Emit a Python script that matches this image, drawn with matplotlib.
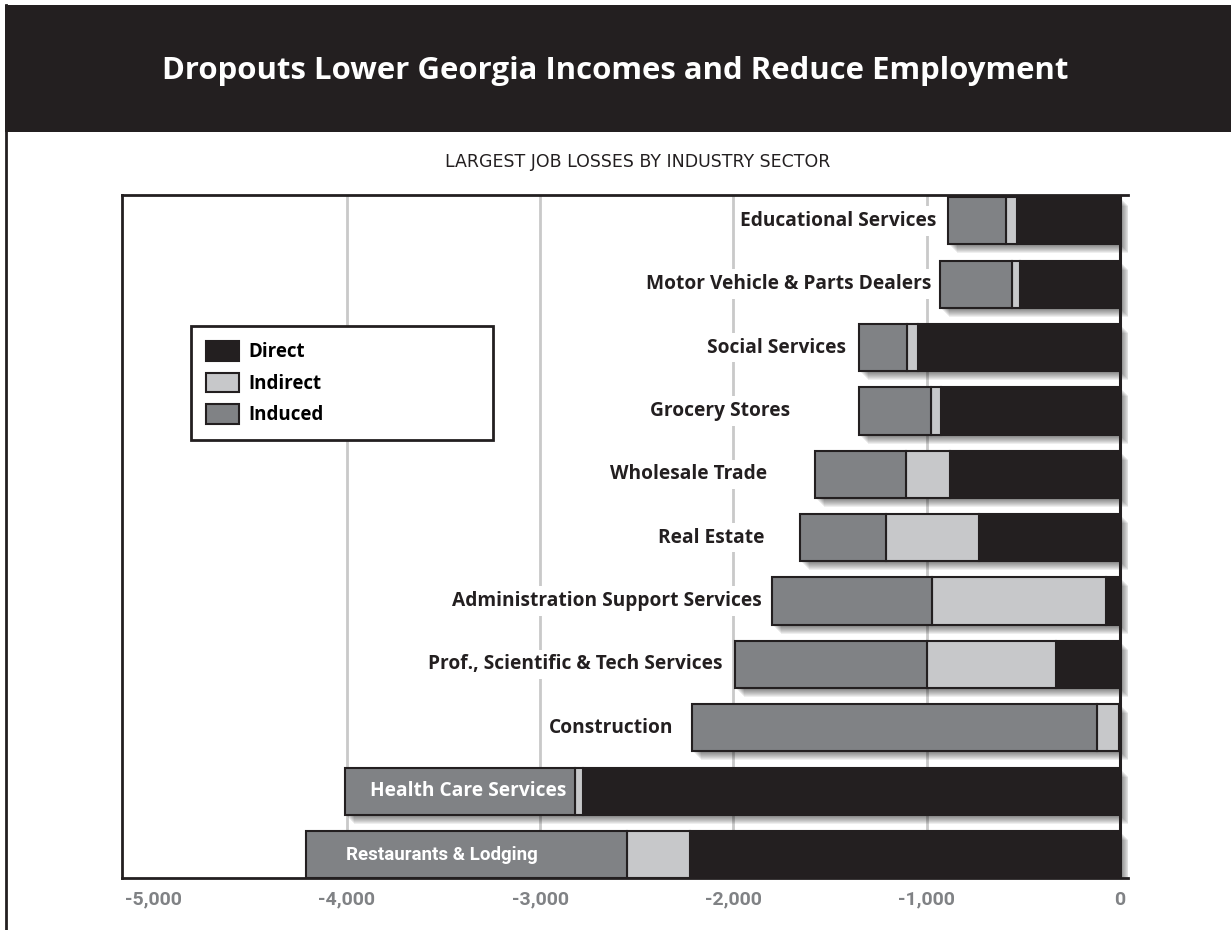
"""
Georgia dropouts: largest job losses by industry sector.

Horizontal stacked bars (direct / indirect / induced jobs lost), drawn
leftward from zero, with a dark title band across the top.
"""

import matplotlib
matplotlib.use("Agg")
import matplotlib.pyplot as plt
from matplotlib.patches import Rectangle
from matplotlib.lines import Line2D
from matplotlib.transforms import ScaledTranslation

# --- data ------------------------------------------------------------
SECTORS = [
    "Educational Services",
    "Motor Vehicle & Parts Dealers",
    "Social Services",
    "Grocery Stores",
    "Wholesale Trade",
    "Real Estate",
    "Administration Support Services",
    "Prof., Scientific & Tech Services",
    "Construction",
    "Health Care Services",
    "Restaurants & Lodging",
]
DIRECT = [533, 517, 1044, 927, 879, 729, 72, 331, 5, 2778, 2227]
INDIRECT = [56, 40, 56, 52, 228, 481, 902, 667, 115, 40, 324]
INDUCED = [299, 377, 250, 371, 470, 445, 827, 993, 2095, 1194, 1658]

XTICKS = [-5000, -4000, -3000, -2000, -1000, 0]
GRID_AT = [-4000, -3000, -2000, -1000]

# --- style -----------------------------------------------------------
INK = "#231f20"
LIGHT = "#c7c8ca"
MID = "#808285"
GRID = "#c9c9c9"
FONT = "Open Sans"
NARROW = "Roboto"

# gap (px) between a label and the left end of its bar
LABEL_GAP = [12, 8, 13, 69, 48, 36, 10, 13, 19]

W, H, DPI = 1231, 930, 100
fig = plt.figure(figsize=(W / DPI, H / DPI), dpi=DPI)
fig.patch.set_facecolor("white")


def fx(px):
    return px / W


def fy(py):
    return 1 - py / H


# title band and left frame line
fig.add_artist(Rectangle((fx(5), fy(132)), 1 - fx(5), fy(5) - fy(132),
                         transform=fig.transFigure, facecolor=INK,
                         edgecolor="none", zorder=0))
fig.add_artist(Line2D([fx(6), fx(6)], [0, fy(5)], transform=fig.transFigure,
                      color=INK, lw=2.0))
fig.text(0.5, fy(71), "Dropouts Lower Georgia Incomes and Reduce Employment",
         color="white", fontsize=22.4, fontweight="bold", family=FONT,
         ha="center", va="center")
fig.text(fx(638), fy(162), "LARGEST JOB LOSSES BY INDUSTRY SECTOR",
         color=INK, fontsize=12.5, family="DejaVu Sans",
         ha="center", va="center")

ax = fig.add_axes([fx(122), fy(878), fx(1128) - fx(122), fy(195) - fy(878)])
ax.set_facecolor("white")

y = list(range(len(SECTORS)))
neg_direct = [-d for d in DIRECT]
neg_indirect = [-d for d in INDIRECT]
neg_induced = [-d for d in INDUCED]
left_indirect = neg_direct
left_induced = [a + b for a, b in zip(neg_direct, neg_indirect)]
totals = [a + b + c for a, b, c in zip(neg_direct, neg_indirect, neg_induced)]

BAR_H = 0.745
bar_kw = dict(height=BAR_H, edgecolor=INK, linewidth=1.5, zorder=3)

# soft drop shadow under each whole bar
for d in range(1, 10):
    shadow = ax.barh(y, totals, height=BAR_H, color="black", alpha=0.065,
                     linewidth=0, zorder=2)
    off = ScaledTranslation(d / DPI, -d / DPI, fig.dpi_scale_trans)
    for p in shadow:
        p.set_transform(ax.transData + off)

b_direct = ax.barh(y, neg_direct, color=INK, **bar_kw)
b_indirect = ax.barh(y, neg_indirect, left=left_indirect, color=LIGHT, **bar_kw)
b_induced = ax.barh(y, neg_induced, left=left_induced, color=MID, **bar_kw)

for g in GRID_AT:
    ax.axvline(g, color=GRID, lw=2.0, zorder=1)
ax.axvline(0, color=INK, lw=2.2, zorder=5)

# sector labels: outside the bar, except the two longest bars
label_kw = dict(fontweight="bold", va="center", textcoords="offset points")
for i, name in enumerate(SECTORS):
    if i < len(LABEL_GAP):
        ax.annotate(name, xy=(totals[i], i), xytext=(-LABEL_GAP[i] * 0.72, 0),
                    ha="right", color=INK, zorder=1.5, family=FONT,
                    fontsize=13.8,
                    bbox=dict(boxstyle="square,pad=0.25", fc="white", ec="none"),
                    **label_kw)
    elif name == "Health Care Services":
        ax.annotate(name, xy=(left_induced[i], i), xytext=(-9 * 0.72, 0),
                    ha="right", color="white", zorder=6, family=FONT,
                    fontsize=13.8, **label_kw)
    else:
        ax.annotate(name, xy=(totals[i], i), xytext=(40 * 0.72, 0),
                    ha="left", color="white", zorder=6, family=NARROW,
                    fontsize=13.5, **label_kw)

ax.set_xlim(-5163, 41)
ax.set_ylim(10.37, -0.407)
ax.set_yticks([])
ax.set_xticks(XTICKS)
ax.set_xticklabels([f"{t:,}" for t in XTICKS])
ax.tick_params(axis="x", length=0, pad=9, labelcolor=MID, labelsize=14)
for lab in ax.get_xticklabels():
    lab.set_fontweight("bold")
    lab.set_family(NARROW)

for side in ("left", "top", "bottom"):
    ax.spines[side].set_color(INK)
    ax.spines[side].set_linewidth(2.0)
ax.spines["right"].set_visible(False)

leg = ax.legend([b_direct, b_indirect, b_induced],
                ["Direct", "Indirect", "Induced"],
                loc="upper left", mode="expand",
                bbox_to_anchor=(fx(190.7), fy(441.7), fx(493) - fx(190.7),
                                fy(326) - fy(441.7)),
                bbox_transform=fig.transFigure,
                prop=dict(family=FONT, weight="bold", size=13.5),
                frameon=True, fancybox=False, framealpha=1,
                edgecolor=INK, borderpad=0.8, labelspacing=0.55,
                handlelength=1.75, handleheight=1.25, handletextpad=0.55,
                borderaxespad=0)
leg.get_frame().set_linewidth(2.0)
leg.set_zorder(7)

fig.savefig("out.png", dpi=DPI)
